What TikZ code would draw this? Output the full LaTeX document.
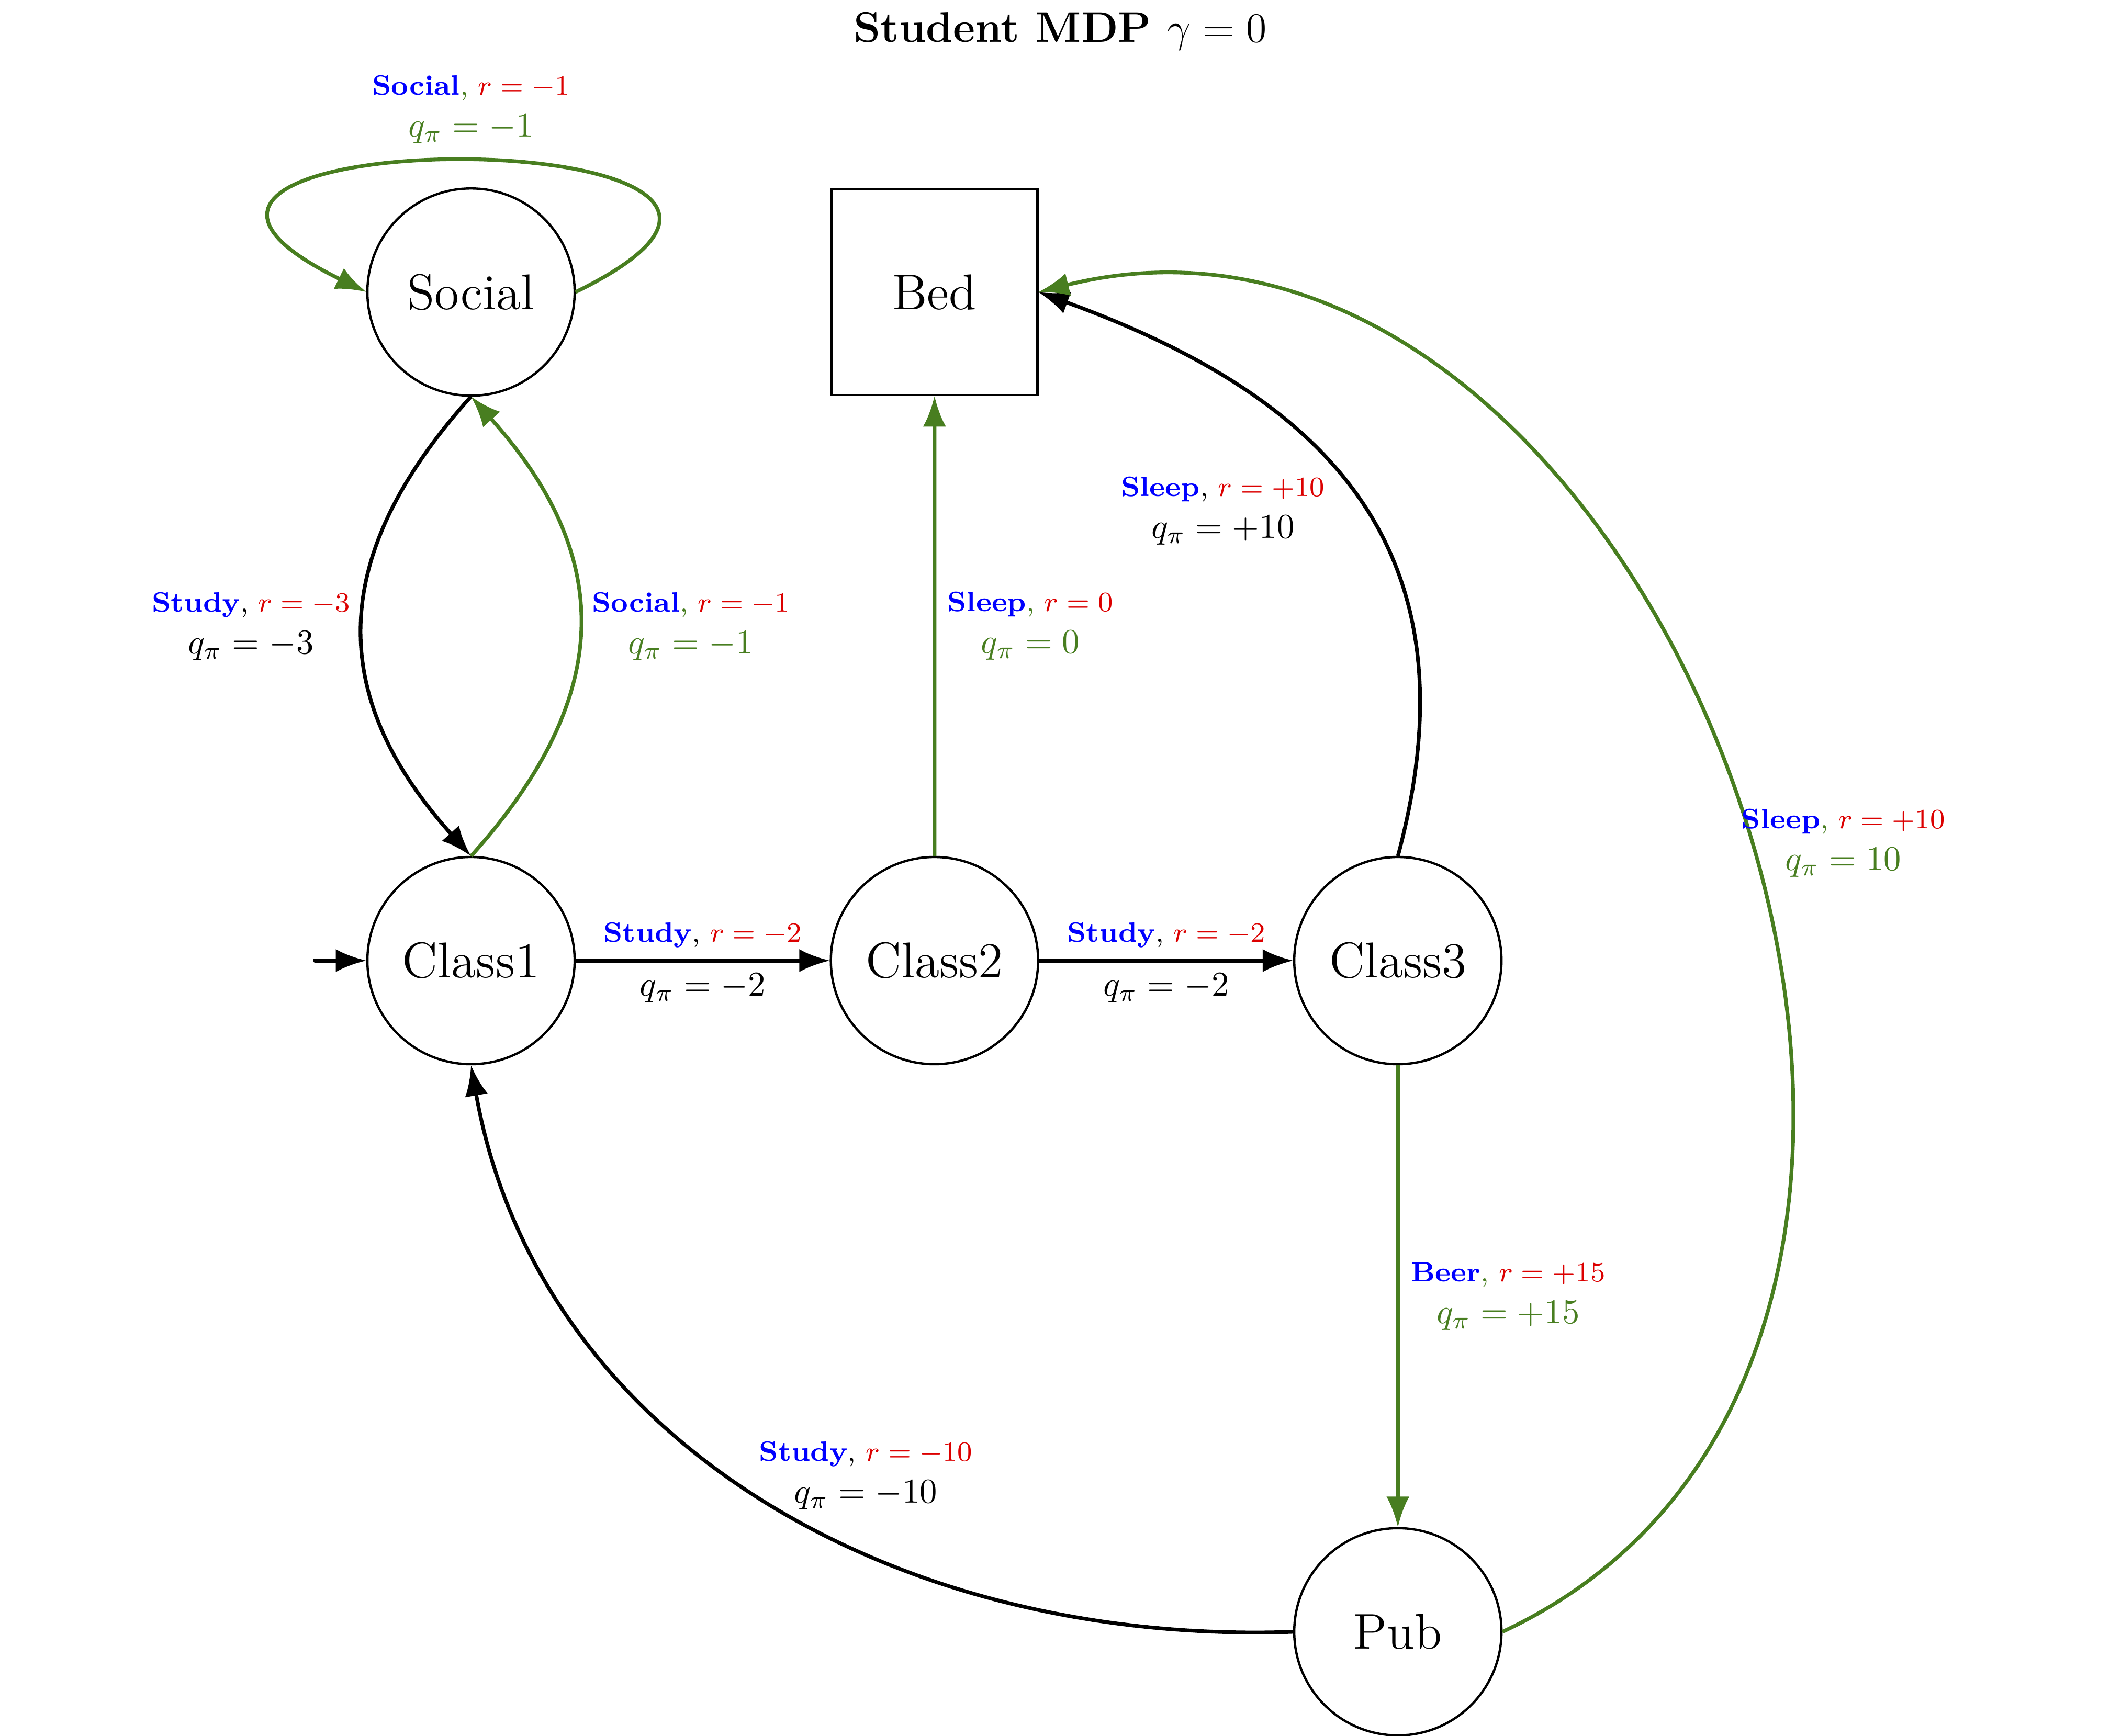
\documentclass[tikz,border=0pt]{standalone}
\usepackage{amsmath}
\usepackage{tikz}
\usetikzlibrary{positioning, arrows.meta, automata}

\definecolor{mdpgreen}{RGB}{72,126,32}
\definecolor{mdpred}{RGB}{220,0,0}
\newcommand{\rew}[2]{{\footnotesize\textcolor{blue}{\textbf{#1}}, \textcolor{mdpred}{$r=#2$}}}

\begin{document}
\begin{tikzpicture}[
          scale=0.75,
          transform shape,
          >={Latex},
          every state/.style = {draw, line width=0.5pt, minimum size=2.087cm, inner sep=0pt, font=\Large},
          terminal/.style = {draw, line width=0.5pt, rectangle, minimum size=2.073cm, inner sep=0pt, font=\Large},
          act/.style = {->, thick},
          best/.style = {act, color=mdpgreen},
          lab/.style = {align=center},
          initial text={}, initial distance=0.52cm,
          every initial by arrow/.style={thick, line cap=round}
         ]
        \useasboundingbox (-4.743,-7.805) rectangle (16.504,9.675);

        % Titel
        \node[font=\bfseries\fontsize{12.3}{15}\selectfont] (title) at (5.933,9.36) {Student MDP $\gamma = 0$};

        % Zustaende
        \node[state, initial] (class1) at (0,0) {Class1};
        \node[state] (class2) at (4.667,0) {Class2};
        \node[state] (class3) at (9.333,0) {Class3};
        \node[state] (social) at (0,6.733) {Social};
        \node[terminal] (bed) at (4.667,6.733) {Bed};
        \node[state] (pub) at (9.333,-6.76) {Pub};

        % Aktionen (gruen = optimale Politik)
        \draw[best] (social.east) to[out=26, in=154, looseness=4.9]
            node[lab, above, yshift=0.04cm] {\rew{Social}{-1}\\ $q_\pi = -1$} (social.west);
        \draw[act] (social.south) to[bend right=42, looseness=1.2]
            node[lab, left] {\rew{Study}{-3}\\ $q_\pi = -3$} (class1.north);
        \draw[best] (class1.north) to[bend right=42, looseness=1.2]
            node[lab, right] {\rew{Social}{-1}\\ $q_\pi = -1$} (social.south);
        \draw[best] (class2) -- node[lab, right] {\rew{Sleep}{0}\\ $q_\pi = 0$} (bed);
        \draw[act] (class1) -- node[lab, above] {\rew{Study}{-2}} node[lab, below] {$q_\pi = -2$} (class2);
        \draw[act] (class2) -- node[lab, above] {\rew{Study}{-2}} node[lab, below] {$q_\pi = -2$} (class3);
        \draw[act] (class3.north) .. controls +(75:3.267) and +(-20:3) ..
            node[lab, left, xshift=-0.17cm, yshift=-0.16cm] {\rew{Sleep}{+10}\\ $q_\pi = +10$} (bed.east);
        \draw[best] (class3) -- node[lab, right] {\rew{Beer}{+15}\\ $q_\pi = +15$} (pub);
        \draw[best] (pub.east) .. controls +(25:6.773) and +(14:6.507) ..
            node[lab, right, pos=0.48, xshift=-0.187cm, yshift=-0.08cm] {\rew{Sleep}{+10}\\ $q_\pi = 10$} (bed.east);
        \draw[act] (pub.west) .. controls +(182:4.067) and +(-80:3.8) ..
            node[lab, above right, pos=0.5, xshift=-0.093cm, yshift=-0.3cm] {\rew{Study}{-10}\\ $q_\pi = -10$} (class1.south);

        \end{tikzpicture}
\end{document}
